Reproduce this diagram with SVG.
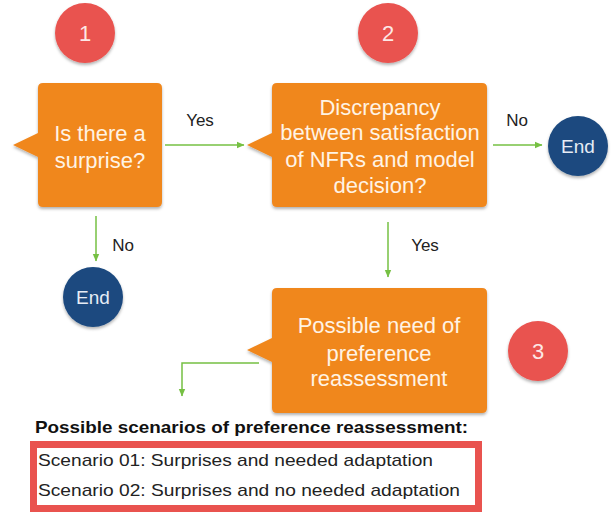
<svg xmlns="http://www.w3.org/2000/svg" width="616" height="513" viewBox="0 0 616 513">
<defs>
<filter id="sh" x="-20%" y="-20%" width="140%" height="150%">
<feDropShadow dx="0" dy="2" stdDeviation="1.8" flood-color="#000" flood-opacity="0.3"/>
</filter>
<marker id="ah" markerWidth="8" markerHeight="8" refX="7" refY="4" orient="auto" markerUnits="userSpaceOnUse">
<path d="M0,0.8 L7.5,4 L0,7.2 Z" fill="#76c043"/>
</marker>
<style>
.box{fill:#f0871d;filter:url(#sh)}
.num{fill:#e9534f;filter:url(#sh)}
.end{fill:#1b4a7f;filter:url(#sh)}
.bt{font-family:"Liberation Sans",Arial,sans-serif;font-size:22px;fill:#fff3e4;text-anchor:middle}
.ct{font-family:"Liberation Sans",Arial,sans-serif;font-size:22px;fill:#fde8e6;text-anchor:middle}
.et{font-family:"Liberation Sans",Arial,sans-serif;font-size:19px;fill:#e6ecf5;text-anchor:middle}
.lb{font-family:"Liberation Sans",Arial,sans-serif;font-size:17px;fill:#222}
.cn{fill:none;stroke:#76c043;stroke-width:1.5;marker-end:url(#ah)}
.st{font-family:"Liberation Sans",Arial,sans-serif;font-size:17px;fill:#222}
</style>
</defs>
<rect width="616" height="513" fill="#fff"/>

<g id="connectors">
<path class="cn" d="M165,145 H244"/>
<path class="cn" d="M493,145 H542"/>
<path class="cn" d="M96,216 V261"/>
<path class="cn" d="M388,222 V277"/>
<path class="cn" d="M259,363 H182 V396"/>
<text class="lb" x="200" y="126" text-anchor="middle">Yes</text>
<text class="lb" x="517" y="126" text-anchor="middle">No</text>
<text class="lb" x="123" y="251" text-anchor="middle">No</text>
<text class="lb" x="425" y="251" text-anchor="middle">Yes</text>
</g>

<g id="badge1">
<circle class="num" cx="85" cy="33" r="30"/>
<text class="ct" x="85" y="41">1</text>
</g>
<g id="badge2">
<circle class="num" cx="388" cy="33" r="30"/>
<text class="ct" x="388" y="41">2</text>
</g>
<g id="badge3">
<circle class="num" cx="538" cy="351" r="30"/>
<text class="ct" x="538" y="359">3</text>
</g>

<g id="q1">
<path class="box" d="M43,83 H157 Q162,83 162,88 V202 Q162,207 157,207 H43 Q38,207 38,202 V157 L13,145 L38,133 V88 Q38,83 43,83 Z"/>
<text class="bt" x="100" y="141">Is there a</text>
<text class="bt" x="100" y="168">surprise?</text>
</g>

<g id="q2">
<path class="box" d="M277,83 H482 Q487,83 487,88 V202 Q487,207 482,207 H277 Q272,207 272,202 V157 L247,145 L272,133 V88 Q272,83 277,83 Z"/>
<text class="bt" x="380" y="115">Discrepancy</text>
<text class="bt" x="380" y="140">between satisfaction</text>
<text class="bt" x="380" y="167">of NFRs and model</text>
<text class="bt" x="380" y="193">decision?</text>
</g>

<g id="end1">
<circle class="end" cx="578" cy="146" r="30"/>
<text class="et" x="578" y="153">End</text>
</g>
<g id="end2">
<circle class="end" cx="93" cy="297" r="30"/>
<text class="et" x="93" y="304">End</text>
</g>

<g id="need">
<path class="box" d="M277,288 H482 Q487,288 487,293 V408 Q487,413 482,413 H277 Q272,413 272,408 V362 L247,350 L272,338 V293 Q272,288 277,288 Z"/>
<text class="bt" x="379" y="333">Possible need of</text>
<text class="bt" x="379" y="361">preference</text>
<text class="bt" x="379" y="386">reassessment</text>
</g>

<g id="scenarios">
<text x="35" y="433" font-family="'Liberation Sans',Arial,sans-serif" font-size="17" font-weight="bold" fill="#111" textLength="433" lengthAdjust="spacingAndGlyphs">Possible scenarios of preference reassessment:</text>
<rect x="33.5" y="444.5" width="445" height="64" fill="#fff" stroke="#e9534f" stroke-width="7"/>
<text class="st" x="38" y="466" textLength="395" lengthAdjust="spacingAndGlyphs">Scenario 01: Surprises and needed adaptation</text>
<text class="st" x="38" y="496" textLength="422" lengthAdjust="spacingAndGlyphs">Scenario 02: Surprises and no needed adaptation</text>
</g>
</svg>
